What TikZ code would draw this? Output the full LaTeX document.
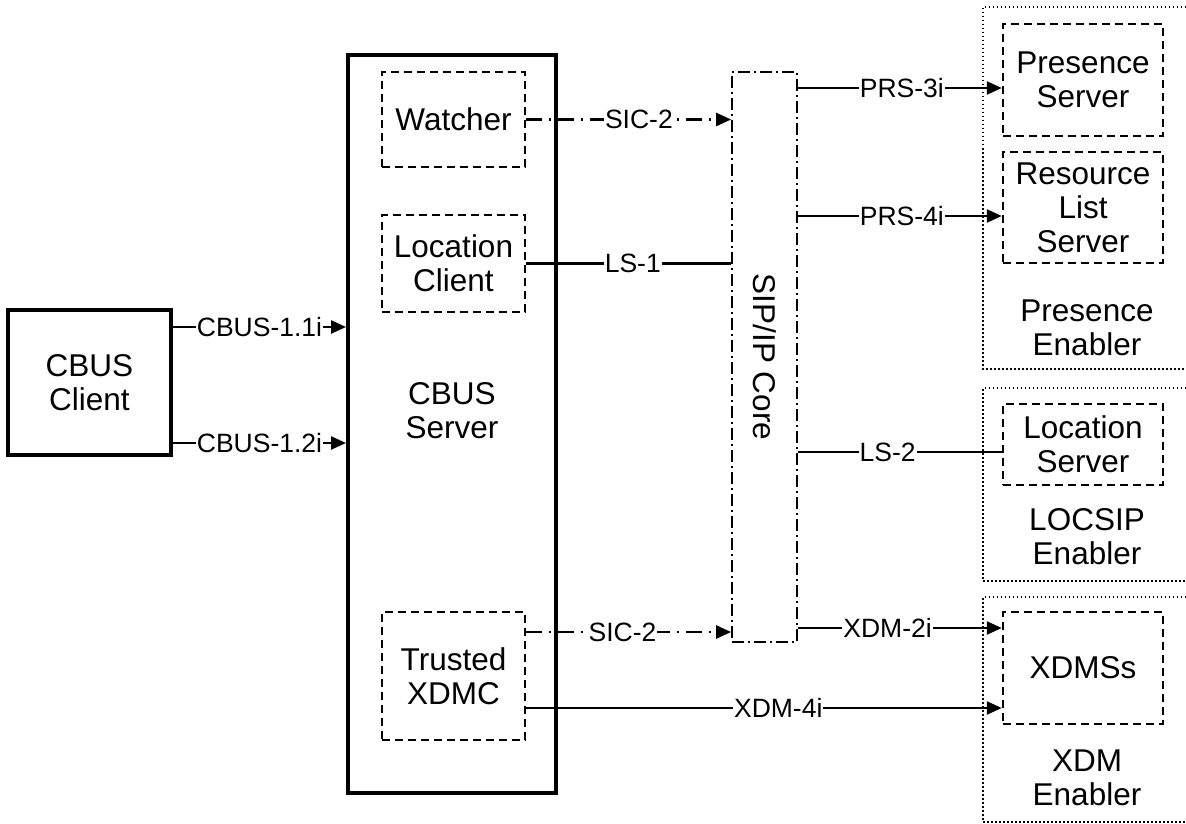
\documentclass[tikz,border=0pt]{standalone}
\usepackage{fontspec}
\setmainfont{Liberation Sans}
\usetikzlibrary{arrows.meta}
\begin{document}
\begin{tikzpicture}[x=1pt,y=-1pt,
 every node/.style={font=\fontsize{31.5}{34}\selectfont, align=center},
 thickbox/.style={draw, line width=4pt, inner sep=0pt},
 dbox/.style={draw, line width=2.5pt, dash pattern=on 8pt off 5pt, inner sep=0pt},
 sipbox/.style={draw, line width=1.8pt, dash pattern=on 12pt off 4pt on 2pt off 4pt, inner sep=0pt},
 enab/.style={line width=2.2pt, dash pattern=on 1.5pt off 2.5pt},
 conn/.style={line width=2.5pt},
 dd/.style={line width=2.5pt, dash pattern=on 16pt off 7pt on 2pt off 7pt},
 arr/.style={-{Triangle[length=15pt,width=13pt]}},
 lab/.style={fill=white, inner sep=1pt, font=\fontsize{26.5}{28}\selectfont}
]
\useasboundingbox (0,0) rectangle (1186,824);

% enabler frames
\draw[enab] (1186,7) -| (983,369) -- (1186,369);
\draw[enab] (1186,388) -| (983,581) -- (1186,581);
\draw[enab] (1186,597) -| (983,822) -- (1186,822);
\node (pe) at (1087,328) {Presence\\Enabler};
\node (le) at (1087,537) {LOCSIP\\Enabler};
\node (xe) at (1087,778) {XDM\\Enabler};

% main boxes
\node[thickbox, minimum width=163pt, minimum height=145pt] (client) at (89.5,382.5) {CBUS\\Client};
\node[thickbox, minimum width=208pt, minimum height=738pt] (server) at (452,424) {};
\node (servertext) at (452,411) {CBUS\\Server};
\node[dbox, minimum width=143pt, minimum height=95pt] (watcher) at (453.5,119.5) {Watcher};
\node[dbox, minimum width=143pt, minimum height=97pt] (locc) at (453.5,263.5) {Location\\Client};
\node[dbox, minimum width=143pt, minimum height=128pt] (txdmc) at (453.5,676) {Trusted\\XDMC};
\node[sipbox, minimum width=65pt, minimum height=570pt] (sip) at (764.5,357) {};
\node[rotate=-90] (siptext) at (sip.center) {SIP/IP Core};
\node[dbox, minimum width=160pt, minimum height=112pt] (ps) at (1083,80) {Presence\\Server};
\node[dbox, minimum width=160pt, minimum height=111pt] (rls) at (1083,207.5) {Resource\\List\\Server};
\node[dbox, minimum width=160pt, minimum height=81pt] (ls) at (1083,444.5) {Location\\Server};
\node[dbox, minimum width=160pt, minimum height=112pt] (xdms) at (1083,668) {XDMSs};

% anchor coordinates
\coordinate (c1) at ([yshift=55.5pt]client.east);
\coordinate (c2) at ([yshift=-60.5pt]client.east);
\coordinate (s2b) at ([yshift=44pt]txdmc.east);
\coordinate (x4) at ([yshift=-32pt]txdmc.east);
\coordinate (p3) at ([yshift=-8pt]ps.west);
\coordinate (p4) at ([yshift=-8.5pt]rls.west);
\coordinate (l2) at ([yshift=-7.5pt]ls.west);
\coordinate (x2) at ([yshift=40pt]xdms.west);

% connectors
\draw[conn, arr] (c1) -- (c1 -| server.west) node[lab, midway] {CBUS-1.1i};
\draw[conn, arr] (c2) -- (c2 -| server.west) node[lab, midway] {CBUS-1.2i};
\draw[dd, arr] (watcher.east) -- (watcher.east -| sip.west) node[lab, pos=0.55] {SIC-2};
\draw[conn] (locc.east) -- (locc.east -| sip.west) node[lab, pos=0.52] {LS-1};
\draw[dd, arr] (s2b) -- (s2b -| sip.west) node[lab, pos=0.47] {SIC-2};
\draw[conn, arr] (x4) -- (x4 -| xdms.west) node[lab, pos=0.53] {XDM-4i};
\draw[conn, arr] (p3 -| sip.east) -- (p3) node[lab, pos=0.51] {PRS-3i};
\draw[conn, arr] (p4 -| sip.east) -- (p4) node[lab, pos=0.51] {PRS-4i};
\draw[conn] (l2 -| sip.east) -- (l2) node[lab, pos=0.44] {LS-2};
\draw[conn, arr] (x2 -| sip.east) -- (x2) node[lab, pos=0.44] {XDM-2i};
\end{tikzpicture}
\end{document}
